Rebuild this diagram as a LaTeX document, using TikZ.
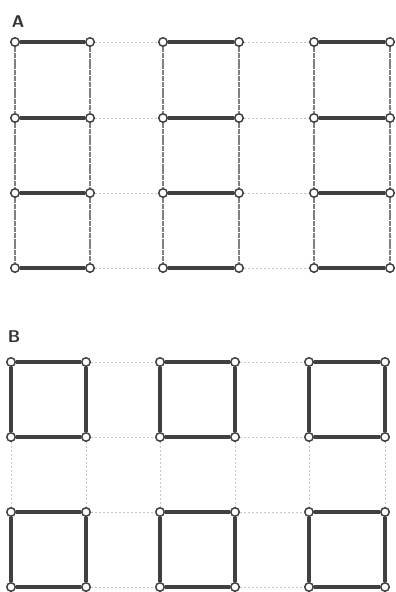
\documentclass[tikz,border=0pt]{standalone}
\begin{document}
\begin{tikzpicture}[x=1pt,y=-1pt,
 vx/.style={circle, draw=black!75, fill=white, line width=1.5pt, minimum size=8.5pt, inner sep=0pt},
 bar/.style={draw=black!75, line width=3.6pt},
 barb/.style={draw=black!75, line width=3.2pt},
 post/.style={draw=black!50, line width=2.4pt, dash pattern=on 5pt off 0.8pt},
 faint/.style={draw=black!22, line width=0.8pt, dash pattern=on 2pt off 2pt},
 lbl/.style={font=\fontsize{17}{17}\selectfont\sffamily\bfseries, text=black!80, inner sep=0pt}]
\useasboundingbox[fill=white] (0,0) rectangle (396,592);
\node[lbl] (la) at (18,22) {A};
\node[lbl] (lb) at (14,337) {B};
% panel A nodes
\foreach \c/\x in {1/15,2/90,3/163,4/239,5/314,6/390}
  \foreach \r/\y in {1/42,2/118,3/193,4/268}
    \node[vx] (a\c\r) at (\x,\y) {};
\foreach \r in {1,2,3,4}{
  \draw[bar] (a1\r) -- (a2\r);
  \draw[bar] (a3\r) -- (a4\r);
  \draw[bar] (a5\r) -- (a6\r);
  \draw[faint] (a2\r) -- (a3\r);
  \draw[faint] (a4\r) -- (a5\r);
}
\foreach \c in {1,...,6}
  \foreach \r/\s in {1/2,2/3,3/4}
    \draw[post] (a\c\r) -- (a\c\s);
% panel B nodes
\foreach \c/\x in {1/11,2/86,3/160,4/235,5/309,6/385}
  \foreach \r/\y in {1/362,2/437,3/512,4/587}
    \node[vx] (b\c\r) at (\x,\y) {};
\foreach \p/\q in {1/2,3/4,5/6}
  \foreach \r/\s in {1/2,3/4}{
    \draw[barb] (b\p\r) -- (b\q\r);
    \draw[barb] (b\p\s) -- (b\q\s);
    \draw[barb] (b\p\r) -- (b\p\s);
    \draw[barb] (b\q\r) -- (b\q\s);
  }
\foreach \r in {1,2,3,4}{
  \draw[faint] (b2\r) -- (b3\r);
  \draw[faint] (b4\r) -- (b5\r);
}
\foreach \c in {1,...,6}
  \draw[faint] (b\c2) -- (b\c3);
\end{tikzpicture}
\end{document}
